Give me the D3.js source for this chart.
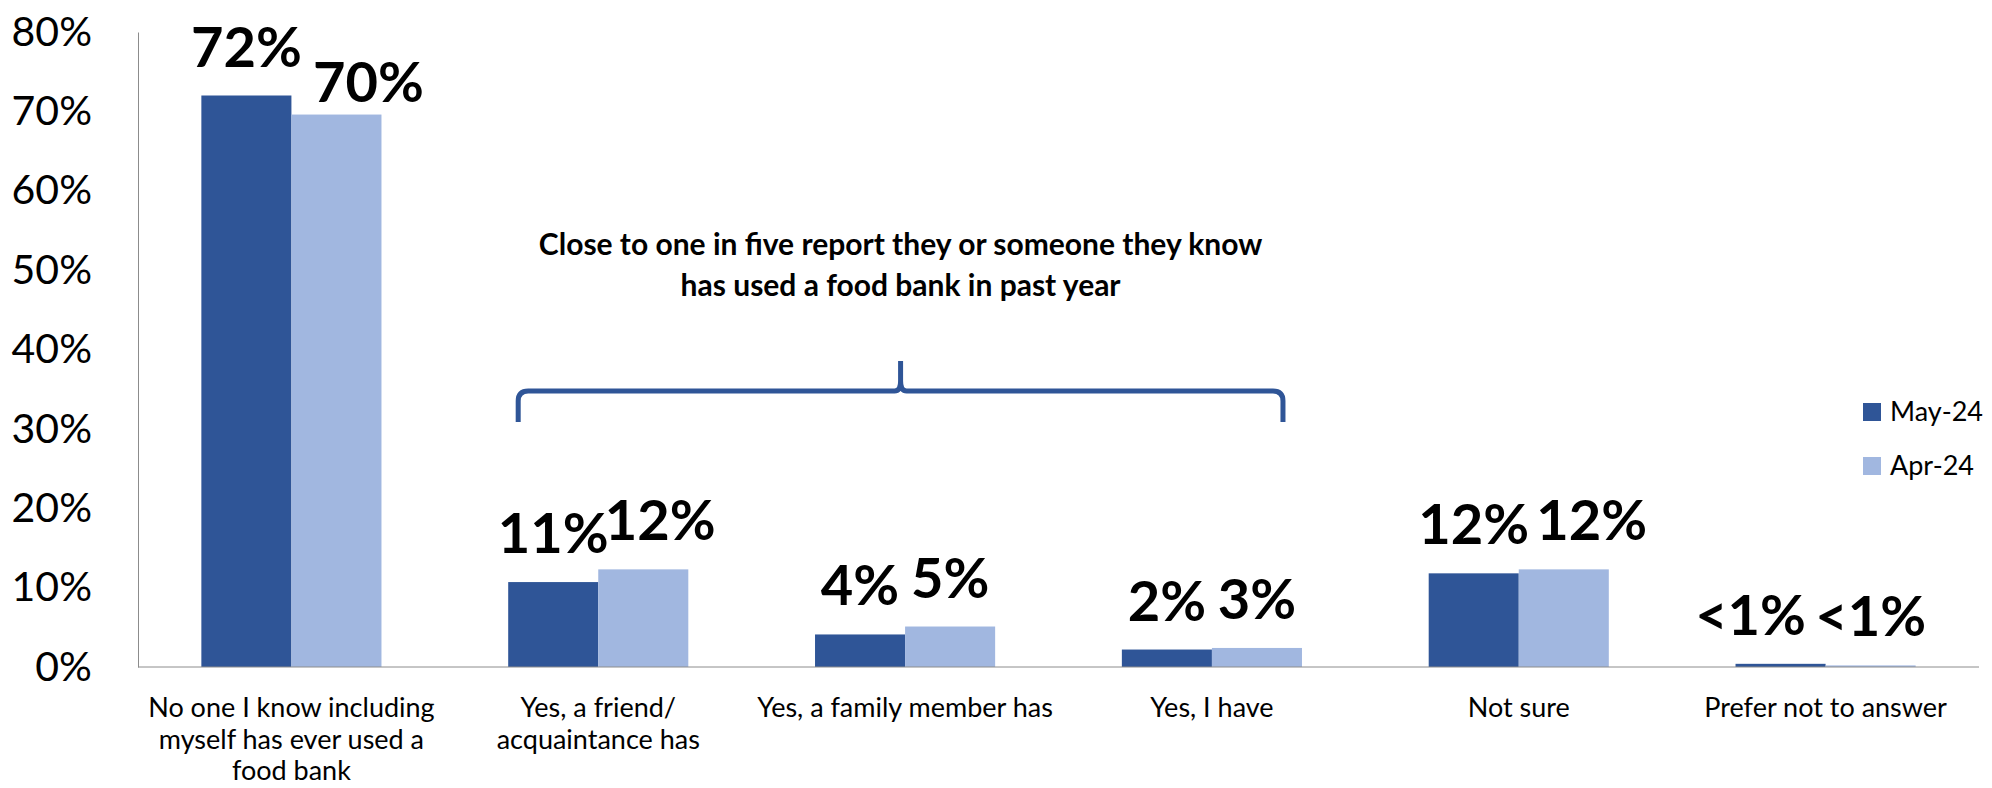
<!DOCTYPE html>
<html>
<head>
<meta charset="utf-8">
<script src="https://cdn.jsdelivr.net/npm/d3@7"></script>
<style>
  body { margin: 0; background: #fff; }
  svg { display: block; font-family: Lato, "Open Sans", sans-serif; }
  .axis path, .axis line { stroke: #8c8c8c; }
</style>
</head>
<body>
<div class="barChart"></div>
<script>
// chart data
var categories = [
    "No one I know including\nmyself has ever used a\nfood bank",
    "Yes, a friend/\nacquaintance has",
    "Yes, a family member has",
    "Yes, I have",
    "Not sure",
    "Prefer not to answer"
];
var seriesNames = ["May-24", "Apr-24"];
var may24 = [0.72, 0.107, 0.041, 0.022, 0.118, 0.004];
var apr24 = [0.696, 0.123, 0.051, 0.024, 0.123, 0.002];
var may24Labels = ["72%", "11%", "4%", "2%", "12%", "<1%"];
var apr24Labels = ["70%", "12%", "5%", "3%", "12%", "<1%"];
var yTicks = [0, 0.1, 0.2, 0.3, 0.4, 0.5, 0.6, 0.7, 0.8];
var note = ["Close to one in five report they or someone they know", "has used a food bank in past year"];

var colors = ["#2f5597", "#a1b7e0"];

var margin = { top: 32, right: 13, bottom: 121, left: 138 },
    width = 1992 - margin.left - margin.right,
    height = 788 - margin.top - margin.bottom;

var svg = d3.select(".barChart").append("svg")
    .attr("width", 1992)
    .attr("height", 788);

var g = svg.append("g")
    .attr("transform", "translate(" + margin.left + "," + margin.top + ")");

var x = d3.scaleBand().domain(categories).range([0, width])
    .paddingInner(0.413).paddingOuter(0.2065);
var x1 = d3.scaleBand().domain(seriesNames).range([0, x.bandwidth()]);
var y = d3.scaleLinear().domain([0, 0.8]).range([height, 0]);

var data = categories.map(function (c, i) {
    return { cat: c, i: i, values: [
        { s: seriesNames[0], v: may24[i], label: may24Labels[i], k: 0 },
        { s: seriesNames[1], v: apr24[i], label: apr24Labels[i], k: 1 }
    ] };
});

// y axis
g.append("g")
    .attr("class", "axis")
    .call(d3.axisLeft(y).tickValues(yTicks).tickFormat(d3.format(".0%")).tickSize(0).tickPadding(46))
    .call(function (a) {
        a.selectAll("text").attr("font-size", 41).attr("fill", "#000").attr("font-family", "Lato");
    });

// bars
var groups = g.selectAll(".grp")
    .data(data)
    .enter().append("g")
    .attr("class", "grp")
    .attr("transform", function (d) { return "translate(" + x(d.cat) + ",0)"; });

groups.selectAll("rect")
    .data(function (d) { return d.values; })
    .enter().append("rect")
    .attr("x", function (d) { return x1(d.s); })
    .attr("y", function (d) { return y(d.v); })
    .attr("width", x1.bandwidth())
    .attr("height", function (d) { return height - y(d.v); })
    .attr("fill", function (d, i) { return colors[i]; });

// x axis line (drawn after bars)
g.append("g")
    .attr("class", "axis")
    .attr("transform", "translate(0," + height + ")")
    .call(d3.axisBottom(x).tickSize(0).tickFormat(""))
    .select(".domain").attr("d", "M0,0H" + width);

// category labels
g.selectAll(".catLabel")
    .data(data)
    .enter().append("text")
    .attr("class", "catLabel")
    .attr("text-anchor", "middle")
    .attr("font-size", 27)
    .attr("fill", "#000")
    .attr("transform", function (d) { return "translate(" + (x(d.cat) + x.bandwidth() / 2) + "," + (height + 50) + ")"; })
    .selectAll("tspan")
    .data(function (d) { return d.cat.split("\n"); })
    .enter().append("tspan")
    .attr("x", 0)
    .attr("y", function (d, i) { return i * 31.5; })
    .text(function (d) { return d; });

// data labels, a few are nudged like in the original
var nudge = { "0-1": [32, 16], "1-1": [17, 0], "4-1": [28, 0], "5-0": [-30, 0] };
groups.selectAll(".valLabel")
    .data(function (d) { return d.values.map(function (v) { return Object.assign({ i: d.i }, v); }); })
    .enter().append("text")
    .attr("class", "valLabel")
    .attr("text-anchor", "middle")
    .attr("font-size", 56)
    .attr("font-weight", "bold")
    .attr("fill", "#000")
    .attr("x", function (d) {
        var n = nudge[d.i + "-" + d.k] || [0, 0];
        return x1(d.s) + x1.bandwidth() / 2 + n[0];
    })
    .attr("y", function (d) {
        var n = nudge[d.i + "-" + d.k] || [0, 0];
        return y(d.v) - 29 + n[1];
    })
    .text(function (d) { return d.label; });

// brace over the "yes" categories
var bx0 = x(categories[1]) + 10,
    bx1 = x(categories[3]) + x.bandwidth() - 19,
    bm = (bx0 + bx1) / 2,
    by = 391 - margin.top, r = 10;
var brace = d3.path();
brace.moveTo(bx0, by + 31);
brace.lineTo(bx0, by + r);
brace.quadraticCurveTo(bx0, by, bx0 + r, by);
brace.lineTo(bm - 6, by);
brace.quadraticCurveTo(bm, by, bm, by - 10);
brace.lineTo(bm, by - 30);
brace.moveTo(bm, by - 10);
brace.quadraticCurveTo(bm, by, bm + 6, by);
brace.lineTo(bx1 - r, by);
brace.quadraticCurveTo(bx1, by, bx1, by + r);
brace.lineTo(bx1, by + 31);
g.append("path")
    .attr("d", brace.toString())
    .attr("fill", "none")
    .attr("stroke", colors[0])
    .attr("stroke-width", 5);

g.append("text")
    .attr("text-anchor", "middle")
    .attr("font-size", 30)
    .attr("font-weight", "bold")
    .attr("fill", "#000")
    .selectAll("tspan")
    .data(note)
    .enter().append("tspan")
    .attr("x", bm)
    .attr("y", function (d, i) { return 255 - margin.top + i * 41; })
    .text(function (d) { return d; });

// legend
var legend = svg.append("g").attr("transform", "translate(1863,403)");
var li = legend.selectAll("g")
    .data(seriesNames)
    .enter().append("g")
    .attr("transform", function (d, i) { return "translate(0," + i * 54 + ")"; });
li.append("rect").attr("width", 18).attr("height", 18)
    .attr("fill", function (d, i) { return colors[i]; });
li.append("text").attr("x", 27).attr("y", 18)
    .attr("font-size", 27).attr("fill", "#000")
    .text(function (d) { return d; });
</script>
</body>
</html>
